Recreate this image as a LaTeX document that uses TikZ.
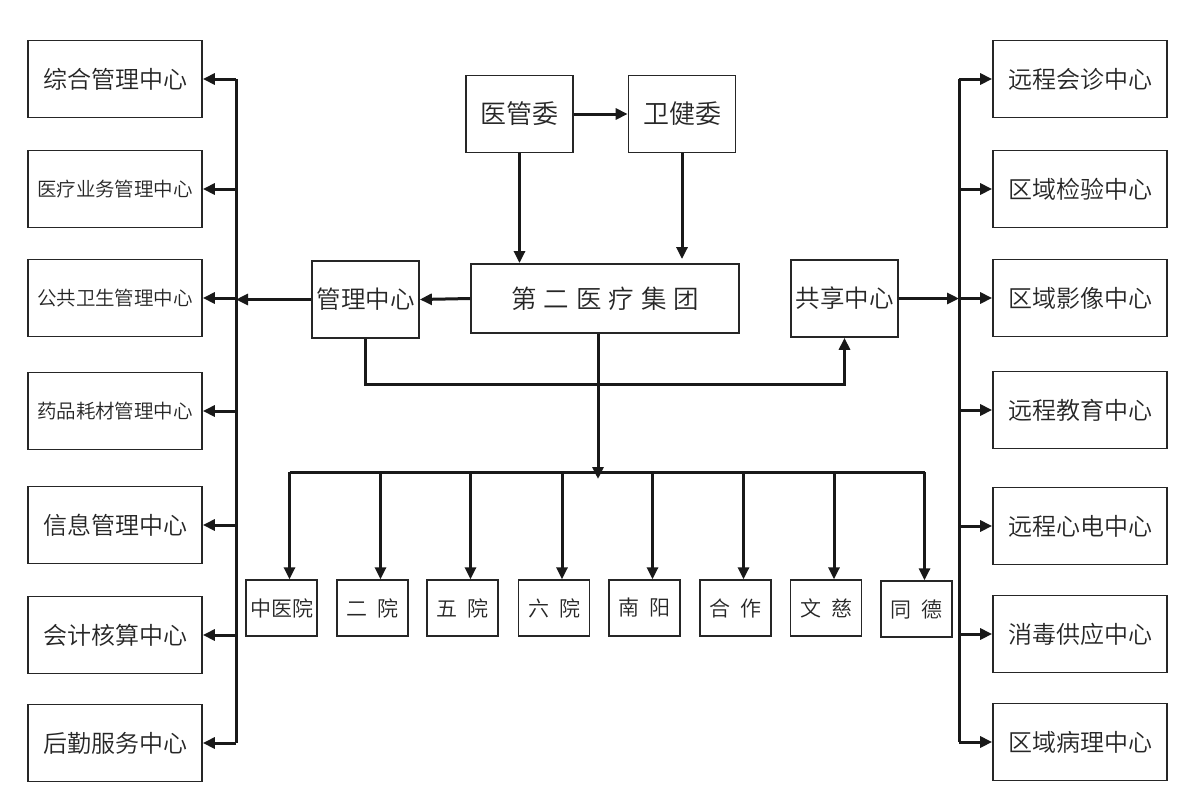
\documentclass[tikz,border=0pt]{standalone}
\usepackage{fontspec}
\setmainfont{Noto Sans CJK SC}[UprightFont={* DemiLight}]
\usetikzlibrary{arrows.meta,calc}
\begin{document}
\begin{tikzpicture}[x=1pt,y=-1pt,
  box/.style={draw=black!85, line width=1.7pt, minimum width=174pt, minimum height=77pt, inner sep=0pt, text=black!85},
  big/.style={font=\fontsize{24}{26}\selectfont},
  small/.style={font=\fontsize{19.5}{21}\selectfont},
  midbox/.style={draw=black!85, line width=1.7pt, minimum width=107pt, minimum height=77pt, inner sep=0pt, text=black!85, font=\fontsize{24.5}{26}\selectfont},
  unit/.style={draw=black!85, line width=1.4pt, minimum width=71pt, minimum height=56pt, inner sep=0pt, text=black!85, font=\fontsize{21}{23}\selectfont},
  conn/.style={line width=3pt, draw=black!90},
  arr/.style={conn, -{Triangle[length=12pt,width=11pt]}}
]
\useasboundingbox (0,0) rectangle (1189,793);
\fill[white] (0,0) rectangle (1189,793);

% left column
\node[box,big]   (L1) at (115,79)  {综合管理中心};
\node[box,small] (L2) at (115,189) {医疗业务管理中心};
\node[box,small] (L3) at (115,298) {公共卫生管理中心};
\node[box,small] (L4) at (115,411) {药品耗材管理中心};
\node[box,big]   (L5) at (115,525) {信息管理中心};
\node[box,big]   (L6) at (115,635) {会计核算中心};
\node[box,big]   (L7) at (115,743) {后勤服务中心};

% right column
\node[box,big] (R1) at (1080,79)  {远程会诊中心};
\node[box,big] (R2) at (1080,189) {区域检验中心};
\node[box,big] (R3) at (1080,298) {区域影像中心};
\node[box,big] (R4) at (1080,410) {远程教育中心};
\node[box,big] (R5) at (1080,526) {远程心电中心};
\node[box,big] (R6) at (1080,634) {消毒供应中心};
\node[box,big] (R7) at (1080,742) {区域病理中心};

% centre
\node[midbox,font=\fontsize{26}{28}\selectfont] (YGW) at (519.5,114) {医管委};
\node[midbox,font=\fontsize{26}{28}\selectfont] (WJW) at (682,114) {卫健委};
\node[draw=black!85, line width=1.9pt, minimum width=268pt, minimum height=69pt, inner sep=0pt, text=black!85, font=\fontsize{25.5}{27}\selectfont] (D2) at (605,298.5) {第\hspace{7pt}二\hspace{7pt}医\hspace{7pt}疗\hspace{7pt}集\hspace{7pt}团};
\node[midbox] (GL) at (365.5,299.5) {管理中心};
\node[midbox] (GX) at (844.5,298.5) {共享中心};

% bottom units
\node[unit] (B1) at (281.5,608) {中医院};
\node[unit] (B2) at (372.5,608) {二\hspace{10pt}院};
\node[unit] (B3) at (462.5,608) {五\hspace{10pt}院};
\node[unit] (B4) at (554,608)   {六\hspace{10pt}院};
\node[unit] (B5) at (644.5,608) {南\hspace{10pt}阳};
\node[unit] (B6) at (735.5,608) {合\hspace{10pt}作};
\node[unit] (B7) at (826,608)   {文\hspace{10pt}慈};
\node[unit] (B8) at (916.5,609) {同\hspace{10pt}德};

% bus coordinates
\coordinate (lbt) at (236,79);
\coordinate (lbb) at (236,743);
\coordinate (rbt) at (959,79);
\coordinate (rbb) at (959,742);
\coordinate (bar) at (0,472);

% left bus and arrows
\draw[conn] (lbt) -- (lbb);
\foreach \n in {L1,L2,L3,L4,L5,L6,L7}
  \draw[arr] (\n.east -| lbt) -- (\n.east);
% right bus and arrows
\draw[conn] (rbt) -- (rbb);
\foreach \n in {R1,R2,R3,R4,R5,R6,R7}
  \draw[arr] (\n.west -| rbt) -- (\n.west);

% top
\draw[arr] (YGW.east) -- (WJW.west);
\draw[arr] (YGW.south) -- (YGW.south |- D2.north);
\draw[arr] (WJW.south) -- ([yshift=4pt]WJW.south |- D2.north);

% management / sharing
\draw[arr] (D2.west) -- (GL.east);
\draw[arr] (GL.west) -- (GL.west -| lbt);
\draw[arr] (GX.east) -- (GX.east -| rbt);
\draw[arr] (GL.south) -- ++(0,46) -| (GX.south);

% to units
\draw[arr] ([xshift=-7pt]D2.south) -- ([xshift=-7pt,yshift=-7pt]D2.south |- bar);
\draw[conn] ([xshift=8pt]B1.north |- bar) -- ([xshift=8pt]B8.north |- bar);
\foreach \n in {B1,B2,B3,B4,B5,B6,B7,B8}
  \draw[arr] ([xshift=8pt]\n.north |- bar) -- ([xshift=8pt]\n.north);
\end{tikzpicture}
\end{document}
